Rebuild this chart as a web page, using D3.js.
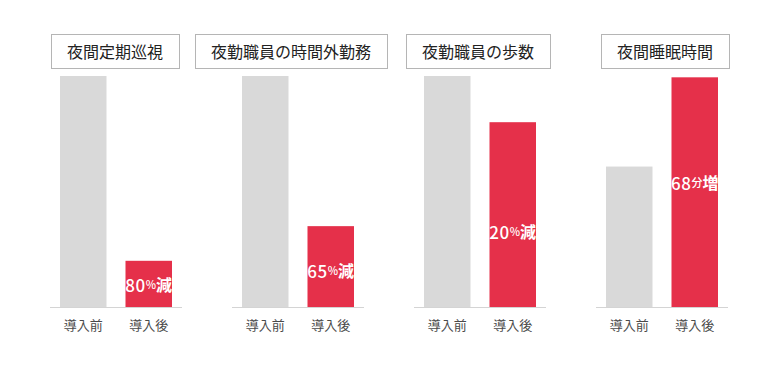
<!DOCTYPE html>
<html>
<head>
<meta charset="utf-8">
<script src="https://cdn.jsdelivr.net/npm/d3@7"></script>
<style>
  body { margin: 0; background: #fff; }
  svg { display: block; font-family: "Noto Sans CJK JP", "Noto Sans", sans-serif; }
</style>
</head>
<body>
<svg id="chart" width="771" height="380"></svg>
<script>
"use strict";

// données
var titles = ["夜間定期巡視", "夜勤職員の時間外勤務", "夜勤職員の歩数", "夜間睡眠時間"]
var phases = ["導入前", "導入後"]
var before = [100, 100, 100, 107]   // indice 100 ; dernier panneau en minutes
var after = [20, 35, 80, 175]
var domainMax = [100, 100, 100, 176]
var badgeNum = ["80", "65", "20", "68"]
var badgeUnit = ["%", "%", "%", "分"]
var badgeWord = ["減", "減", "減", "増"]

var svg = d3.select("#chart")
var baseY = 307, topY = 76

var panelX = d3.scaleBand().domain(titles).range([25, 753])
var fills = { "導入前": "#d9d9d9", "導入後": "#e5304a" }
// décalage vertical du badge par rapport au milieu de la barre
var badgeShift = [0, 3, 16, -10]
// léger décalage horizontal des titres
var titleShift = [-1, -7, -2, 3]

titles.forEach(function(title, i) {
    var cx = panelX(title) + panelX.bandwidth() / 2
    var g = svg.append("g")

    var x = d3.scaleBand().domain(phases).range([cx - 56, cx + 56]).paddingInner(0.29)
    var y = d3.scaleLinear().domain([0, domainMax[i]]).range([baseY, topY])
    var vals = [before[i], after[i]]

    // titre encadré
    var tx = cx + titleShift[i]
    var t = g.append("text")
        .attr("x", tx)
        .attr("y", 51)
        .attr("text-anchor", "middle")
        .attr("dominant-baseline", "central")
        .attr("font-size", 16)
        .attr("fill", "#222")
        .text(title)
    var w = t.node().getComputedTextLength() + 32
    g.insert("rect", "text")
        .attr("x", Math.round(tx - w / 2) + 0.5)
        .attr("y", 34.5)
        .attr("width", Math.round(w))
        .attr("height", 34)
        .attr("fill", "#fff")
        .attr("stroke", "#b5b5b5")
        .attr("stroke-width", 1)

    g.selectAll("rect.bar")
      .data(phases)
      .enter()
      .append("rect")
        .attr("class", "bar")
        .attr("x", d => x(d))
        .attr("width", x.bandwidth())
        .attr("y", (d, j) => y(vals[j]))
        .attr("height", (d, j) => baseY - y(vals[j]))
        .attr("fill", d => fills[d])

    g.append("line")
        .attr("x1", cx - 66).attr("x2", cx + 66)
        .attr("y1", baseY + 0.5).attr("y2", baseY + 0.5)
        .attr("stroke", "#d4d4d4")

    g.selectAll("text.cat")
      .data(phases)
      .enter()
      .append("text")
        .attr("class", "cat")
        .attr("x", d => x(d) + x.bandwidth() / 2)
        .attr("y", 324)
        .attr("text-anchor", "middle")
        .attr("dominant-baseline", "central")
        .attr("font-size", 13)
        .attr("fill", "#4a4a4a")
        .text(d => d)

    // badge blanc dans la barre rouge
    var by = (y(after[i]) + baseY) / 2 + badgeShift[i]
    var badge = g.append("text")
        .attr("x", x("導入後") + x.bandwidth() / 2)
        .attr("y", by)
        .attr("text-anchor", "middle")
        .attr("dominant-baseline", "central")
        .attr("fill", "#fff")
        .attr("font-weight", 500)
    badge.append("tspan").attr("font-size", 17).attr("letter-spacing", 0.5).text(badgeNum[i])
    badge.append("tspan").attr("font-size", 11).text(badgeUnit[i])
    badge.append("tspan").attr("font-size", 16).attr("font-weight", "bold").text(badgeWord[i])
})
</script>
</body>
</html>
